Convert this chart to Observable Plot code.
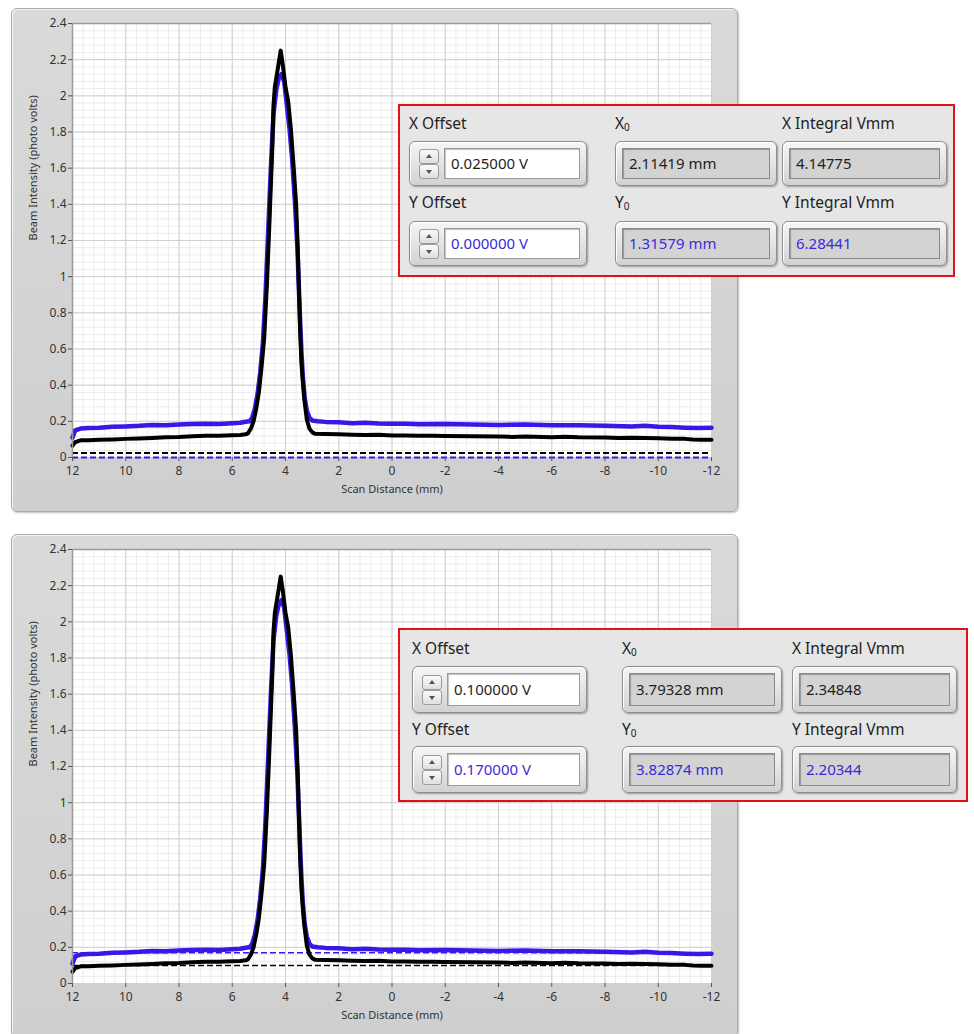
<!DOCTYPE html>
<html>
<head>
<meta charset="utf-8">
<script src="https://cdn.jsdelivr.net/npm/d3@7"></script>
<script src="https://cdn.jsdelivr.net/npm/@observablehq/plot@0.6"></script>
<style>
  html, body { margin: 0; padding: 0; background: #ffffff; }
  #root { position: relative; width: 974px; height: 1034px; overflow: hidden; background: #fff; font-family: "Noto Sans", "Open Sans", sans-serif; }
  .panel { position: absolute; background: linear-gradient(#dadada, #cfcfcf); border: 1px solid #a9a9a9; border-radius: 6px; box-shadow: inset 1px 1px 0 #f4f4f4, 1px 1px 2px rgba(0,0,0,0.25); }
  .panel svg { position: absolute; left: 0; top: 0; }
  .ctrl { position: absolute; background: #e6e6e6; border: 2px solid #e3101a; box-sizing: border-box; }
  .lbl { position: absolute; font-size: 15.5px; color: #222; white-space: nowrap; line-height: 1; }
  .lbl sub { font-size: 10px; vertical-align: -2px; }
  .box { position: absolute; box-sizing: border-box; border: 1px solid #8f8f8f; border-radius: 6px;
         background: linear-gradient(#f6f6f6, #d2d2d2); box-shadow: 1px 1px 2px rgba(0,0,0,0.35), inset 1px 1px 0 #ffffff; }
  .field { position: absolute; box-sizing: border-box; font-size: 15px; line-height: 1; display: flex; align-items: center; padding-left: 6px; white-space: nowrap; }
  .field.num { background: #ffffff; border: 1px solid #9a9a9a; box-shadow: inset 1px 1px 1px rgba(0,0,0,0.25); }
  .field.ind { background: #d3d3d3; border: 1px solid #8a8a8a; box-shadow: inset 1px 1px 1px rgba(0,0,0,0.3); }
  .spin { position: absolute; box-sizing: border-box; width: 20px; }
  .spin div { position: absolute; left: 0; width: 20px; height: 15px; box-sizing: border-box; border: 1px solid #9a9a9a; border-radius: 3px; background: linear-gradient(#fbfbfb, #dedede); }
  .spin div::after { content: ""; position: absolute; left: 6px; border-left: 3.5px solid transparent; border-right: 3.5px solid transparent; }
  .spin .up::after { top: 4px; border-bottom: 4px solid #555; }
  .spin .dn::after { top: 5px; border-top: 4px solid #555; }
  .blk { color: #1f1f1f; }
  .blu { color: #3b2bd6; }
</style>
</head>
<body>
<div id="root"></div>
<script>
// ---------- data ----------
// Scan distance (mm) and X profile (black trace), photo volts
const xProfileX = [12, 11.9, 11.7, 11.4, 11.0, 10.5, 10.0, 9.5, 9.0, 8.5, 8.0, 7.5, 7.0, 6.5, 6.0, 5.7, 5.5, 5.4, 5.3, 5.2, 5.1, 5.0, 4.9, 4.8, 4.7, 4.6, 4.5, 4.45, 4.4, 4.3, 4.18, 4.1, 4.0, 3.9, 3.8, 3.7, 3.6, 3.55, 3.5, 3.45, 3.4, 3.35, 3.3, 3.2, 3.1, 3.0, 2.9, 2.5, 2.0, 1.5, 1.0, 0.5, 0.0, -0.5, -1.0, -1.5, -2.0, -3.0, -4.0, -4.5, -5.0, -6.0, -6.5, -7.0, -8.0, -8.5, -9.0, -10.0, -10.5, -11.0, -11.3, -11.6, -12];
const xProfileV = [0.065, 0.085, 0.095, 0.095, 0.098, 0.10, 0.103, 0.105, 0.108, 0.112, 0.114, 0.118, 0.12, 0.12, 0.123, 0.125, 0.128, 0.135, 0.16, 0.20, 0.27, 0.36, 0.50, 0.66, 0.95, 1.31, 1.70, 1.95, 2.05, 2.14, 2.25, 2.17, 2.05, 1.97, 1.82, 1.62, 1.40, 1.20, 0.95, 0.70, 0.52, 0.42, 0.33, 0.21, 0.16, 0.14, 0.132, 0.13, 0.128, 0.126, 0.124, 0.126, 0.122, 0.122, 0.12, 0.12, 0.119, 0.118, 0.116, 0.114, 0.116, 0.112, 0.115, 0.112, 0.11, 0.108, 0.109, 0.106, 0.104, 0.103, 0.099, 0.098, 0.098];

// Y profile (blue trace), photo volts
const yProfileX = [12, 11.9, 11.7, 11.4, 11.0, 10.5, 10.0, 9.5, 9.0, 8.5, 8.0, 7.5, 7.0, 6.5, 6.0, 5.7, 5.5, 5.35, 5.25, 5.15, 5.05, 4.95, 4.85, 4.75, 4.65, 4.55, 4.45, 4.35, 4.25, 4.15, 4.05, 3.95, 3.85, 3.75, 3.65, 3.55, 3.5, 3.45, 3.4, 3.35, 3.28, 3.2, 3.1, 3.0, 2.8, 2.5, 2.0, 1.5, 1.0, 0.5, 0.0, -0.5, -1.0, -2.0, -3.0, -4.0, -5.0, -6.0, -7.0, -8.0, -9.0, -9.5, -10.0, -10.5, -11.0, -11.5, -12];
const yProfileV = [0.11, 0.15, 0.16, 0.163, 0.165, 0.17, 0.172, 0.175, 0.18, 0.179, 0.182, 0.185, 0.186, 0.185, 0.19, 0.192, 0.198, 0.20, 0.22, 0.27, 0.35, 0.47, 0.63, 0.90, 1.25, 1.60, 1.90, 2.03, 2.10, 2.12, 2.08, 1.95, 1.82, 1.65, 1.42, 1.15, 0.95, 0.75, 0.58, 0.45, 0.33, 0.26, 0.22, 0.205, 0.20, 0.197, 0.195, 0.19, 0.192, 0.188, 0.186, 0.187, 0.184, 0.185, 0.182, 0.18, 0.182, 0.178, 0.178, 0.176, 0.172, 0.175, 0.17, 0.168, 0.165, 0.163, 0.164];

// axis ticks
const xTicks = [12, 10, 8, 6, 4, 2, 0, -2, -4, -6, -8, -10, -12];
const yTicks = [0, 0.2, 0.4, 0.6, 0.8, 1, 1.2, 1.4, 1.6, 1.8, 2, 2.2, 2.4];

// offsets shown as dashed lines (X offset = black, Y offset = blue)
const xOffsets = [0.025, 0.100];
const yOffsets = [0.000, 0.170];

// control panel readouts
const xOffsetText = ["0.025000 V", "0.100000 V"];
const yOffsetText = ["0.000000 V", "0.170000 V"];
const x0Text = ["2.11419 mm", "3.79328 mm"];
const y0Text = ["1.31579 mm", "3.82874 mm"];
const xIntText = ["4.14775", "2.34848"];
const yIntText = ["6.28441", "2.20344"];

const xLabel = "Scan Distance (mm)";
const yLabel = "Beam Intensity (photo volts)";

const BLUE = "#3419e8";
const xData = xProfileX.map((x, i) => ({x, v: xProfileV[i]}));
const yData = yProfileX.map((x, i) => ({x, v: yProfileV[i]}));

const minorX = d3.range(-12, 12.001, 0.4).map(d => +d.toFixed(2));
const minorY = d3.range(0, 2.4001, 0.04).map(d => +d.toFixed(3));

function makePlot(k) {
  return Plot.plot({
    width: 725,
    height: 502,
    marginLeft: 60,
    marginRight: 26,
    marginTop: 14,
    marginBottom: 54,
    style: {background: "transparent", fontFamily: "'Noto Sans', sans-serif", fontSize: "12px", color: "#333", overflow: "visible"},
    x: {domain: [12, -12]},
    y: {domain: [0, 2.4]},
    marks: [
      Plot.frame({fill: "#ffffff", stroke: null}),
      Plot.gridX(minorX, {stroke: "#ececec", strokeOpacity: 1}),
      Plot.gridY(minorY, {stroke: "#ececec", strokeOpacity: 1}),
      Plot.gridX(xTicks, {stroke: "#d0d0d0", strokeOpacity: 1}),
      Plot.gridY(yTicks, {stroke: "#d0d0d0", strokeOpacity: 1}),
      Plot.ruleY([yOffsets[k]], {stroke: BLUE, strokeWidth: k === 0 ? 2 : 1.5, strokeDasharray: "6,3"}),
      Plot.ruleY([xOffsets[k]], {stroke: "#000", strokeWidth: k === 0 ? 2 : 1.5, strokeDasharray: "6,3"}),
      Plot.line(yData, {x: "x", y: "v", stroke: BLUE, strokeWidth: 4.5, curve: "linear"}),
      Plot.line(xData, {x: "x", y: "v", stroke: "#000", strokeWidth: 4, curve: "linear"}),
      Plot.ruleX([12], {stroke: "#9a9a9a", strokeWidth: 1.5}),
      Plot.ruleY([2.4], {stroke: "#9a9a9a", strokeWidth: 1.5}),
      Plot.axisX(xTicks, {tickSize: 4, tickPadding: 5, tickFormat: d => String(d), label: null, stroke: "#555"}),
      Plot.axisY(yTicks, {tickSize: 4, tickPadding: 2, tickFormat: d => String(+d.toFixed(1)), label: null, stroke: "#555"}),
      Plot.text([xLabel], {frameAnchor: "bottom", dy: 35, fontSize: 11, fill: "#333", text: d => d}),
      Plot.text([yLabel], {frameAnchor: "left", dx: -39, rotate: -90, fontSize: 11, fill: "#333", text: d => d})
    ]
  });
}

const root = document.getElementById("root");
const panelTops = [8, 534];
panelTops.forEach((top, k) => {
  const p = document.createElement("div");
  p.className = "panel";
  p.style.left = "11px";
  p.style.top = top + "px";
  p.style.width = "725px";
  p.style.height = "502px";
  p.appendChild(makePlot(k));
  root.appendChild(p);
});

// control panels (HTML overlays)
const ctrlGeom = [
  {left: 398, top: 104, w: 557, h: 173, col: [9, 215, 382], bw: [178, 162, 165], lblY: [10, 89], boxY: [35, 115], bh: 45},
  {left: 398, top: 628, w: 570, h: 174, col: [12, 222, 392], bw: [175, 160, 165], lblY: [11, 92], boxY: [36, 116], bh: 47}
];

function addBox(parent, x, y, w, h, text, cls, isNum) {
  const b = document.createElement("div");
  b.className = "box";
  Object.assign(b.style, {left: x + "px", top: y + "px", width: w + "px", height: h + "px"});
  const inset = 6;
  let fx = inset;
  if (isNum) {
    const s = document.createElement("div");
    s.className = "spin";
    Object.assign(s.style, {left: "9px", top: (h / 2 - 16) + "px", height: "30px"});
    s.innerHTML = '<div class="up" style="top:0"></div><div class="dn" style="top:15px"></div>';
    b.appendChild(s);
    fx = 34;
  }
  const f = document.createElement("div");
  f.className = "field " + (isNum ? "num " : "ind ") + cls;
  Object.assign(f.style, {left: fx + "px", top: inset + "px", width: (w - fx - inset - 2) + "px", height: (h - 2 * inset - 2) + "px"});
  f.textContent = text;
  b.appendChild(f);
  parent.appendChild(b);
}

function addLabel(parent, x, y, html) {
  const l = document.createElement("div");
  l.className = "lbl";
  Object.assign(l.style, {left: x + "px", top: y + "px"});
  l.innerHTML = html;
  parent.appendChild(l);
}

ctrlGeom.forEach((g, k) => {
  const c = document.createElement("div");
  c.className = "ctrl";
  Object.assign(c.style, {left: g.left + "px", top: g.top + "px", width: g.w + "px", height: g.h + "px"});
  addLabel(c, g.col[0], g.lblY[0], "X Offset");
  addLabel(c, g.col[1], g.lblY[0], "X<sub>0</sub>");
  addLabel(c, g.col[2], g.lblY[0], "X Integral Vmm");
  addLabel(c, g.col[0], g.lblY[1], "Y Offset");
  addLabel(c, g.col[1], g.lblY[1], "Y<sub>0</sub>");
  addLabel(c, g.col[2], g.lblY[1], "Y Integral Vmm");
  addBox(c, g.col[0], g.boxY[0], g.bw[0], g.bh, xOffsetText[k], "blk", true);
  addBox(c, g.col[1], g.boxY[0], g.bw[1], g.bh, x0Text[k], "blk", false);
  addBox(c, g.col[2], g.boxY[0], g.bw[2], g.bh, xIntText[k], "blk", false);
  addBox(c, g.col[0], g.boxY[1], g.bw[0], g.bh, yOffsetText[k], "blu", true);
  addBox(c, g.col[1], g.boxY[1], g.bw[1], g.bh, y0Text[k], "blu", false);
  addBox(c, g.col[2], g.boxY[1], g.bw[2], g.bh, yIntText[k], "blu", false);
  root.appendChild(c);
});
</script>
</body>
</html>
